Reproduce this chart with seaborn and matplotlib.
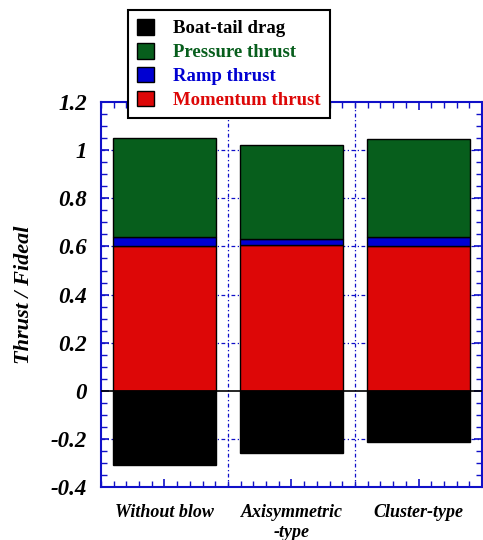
import matplotlib
matplotlib.use("Agg")
import matplotlib.pyplot as plt
import seaborn as sns
import numpy as np
import pandas as pd
from matplotlib.patches import Patch
from matplotlib.ticker import MultipleLocator

categories = ["Without blow", "Axisymmetric\n-type", "Cluster-type"]
momentum = [0.603, 0.604, 0.603]
ramp = [0.038, 0.028, 0.036]
pressure = [0.410, 0.390, 0.408]
boattail = [-0.308, -0.258, -0.212]

sns.set_theme(style="white")
plt.rcParams['font.family'] = ['Liberation Serif', 'DejaVu Serif']

c_black = "#000000"
c_green = "#075e1c"
c_blue = "#0000d2"
c_red = "#dd0707"
c_axis = "#1010c8"

fig = plt.figure(figsize=(4.83, 5.40), dpi=100)
ax = fig.add_axes([0.209, 0.098, 0.789, 0.713])

df = pd.DataFrame({"cat": categories, "momentum": momentum, "ramp": ramp,
                   "pressure": pressure, "boattail": boattail})
b1 = np.array(momentum)
b2 = b1 + np.array(ramp)

kw = dict(width=0.81, edgecolor="black", linewidth=1.0, ax=ax, zorder=3)
sns.barplot(data=df, x="cat", y="momentum", color=c_red, saturation=1, **kw)
sns.barplot(data=df, x="cat", y="ramp", color=c_blue, saturation=1, bottom=b1, **kw)
sns.barplot(data=df, x="cat", y="pressure", color=c_green, saturation=1, bottom=b2, **kw)
sns.barplot(data=df, x="cat", y="boattail", color=c_black, saturation=1, **kw)

ax.set_xlim(-0.5, 2.5)
ax.set_ylim(-0.4, 1.2)
ax.axhline(0, color="black", lw=1.2, zorder=4)

# grid
for yv in np.arange(-0.2, 1.2, 0.2):
    if abs(yv) > 1e-6:
        ax.axhline(yv, color=c_axis, lw=0.9, ls=(0, (3, 2, 1, 2)), zorder=1)
for xv in [0.5, 1.5]:
    ax.axvline(xv, color=c_axis, lw=0.9, ls=(0, (3, 2, 1, 2)), zorder=1)

for s in ax.spines.values():
    s.set_color(c_axis)
    s.set_linewidth(1.5)

ax.yaxis.set_major_locator(MultipleLocator(0.2))
ax.yaxis.set_minor_locator(MultipleLocator(0.05))
ax.set_xticks([0, 1, 2])
ax.set_xticks(np.arange(-0.5, 2.5001, 0.1), minor=True)
ax.tick_params(axis="both", which="both", direction="in", colors=c_axis,
               top=True, right=True, bottom=True, left=True)
ax.tick_params(axis="both", which="major", length=6, width=1.2)
ax.tick_params(axis="both", which="minor", length=4, width=1.0)
ax.tick_params(axis="y", which="major", pad=10)
ax.tick_params(axis="x", which="major", pad=12)

ax.set_yticks([-0.4, -0.2, 0, 0.2, 0.4, 0.6, 0.8, 1.0, 1.2])
ax.set_yticklabels(["-0.4", "-0.2", "0", "0.2", "0.4", "0.6", "0.8", "1", "1.2"],
                   fontsize=16.5, fontweight="bold", fontstyle="italic", color="black")
ax.set_xticklabels(categories, fontsize=13, fontweight="bold", fontstyle="italic",
                   color="black", linespacing=1.25)
ax.set_xlabel("")
ax.set_ylabel("Thrust / Fideal", fontsize=16, fontweight="bold", fontstyle="italic",
              color="black", labelpad=12)

handles = [Patch(facecolor=c_black, edgecolor="black"),
           Patch(facecolor=c_green, edgecolor="black"),
           Patch(facecolor=c_blue, edgecolor="black"),
           Patch(facecolor=c_red, edgecolor="black")]
labels = ["Boat-tail drag", "Pressure thrust", "Ramp thrust", "Momentum thrust"]
leg = fig.legend(handles, labels, loc="upper left", bbox_to_anchor=(0.265, 0.982),
                 frameon=True, fancybox=False, framealpha=1, edgecolor="black",
                 prop=dict(size=13.5, weight="bold"), handlelength=0.9, handleheight=0.9,
                 handletextpad=1.0, borderpad=0.5, labelspacing=0.3, borderaxespad=0)
leg.get_frame().set_linewidth(1.5)
leg.set_zorder(10)
for t, c in zip(leg.get_texts(), [c_black, c_green, c_blue, c_red]):
    t.set_color(c)

fig.savefig("out.png", dpi=100)
